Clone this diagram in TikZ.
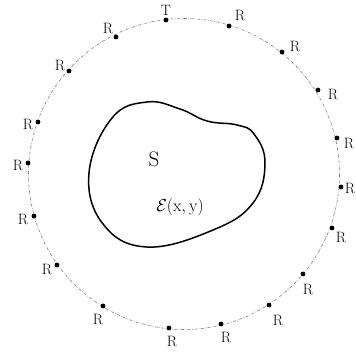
\documentclass[tikz,border=0pt]{standalone}
\begin{document}
\begin{tikzpicture}[x=1pt,y=-1pt,
  dot/.style={circle,fill=black,inner sep=0pt,minimum size=4.8pt},
  lbl/.style={inner sep=0pt,font=\fontsize{15}{17}\selectfont},
  ring/.style={gray,line width=0.6pt,dash pattern=on 3pt off 1.5pt on 0.6pt off 1.5pt},
  blob/.style={line width=1.5pt,line join=round}]
\useasboundingbox (0,0) rectangle (356,354);
\draw[ring] (184,174) circle[radius=155.5];
\draw[blob] plot[smooth cycle,tension=0.7] coordinates{(147,102) (180,109) (207,121) (237,125) (254,134) (265,163) (253,203) (213,230) (147,247) (103,224) (89,173) (112,118)};
\node[font=\fontsize{21}{23}\selectfont] (S) at (154,159) {S};
\node[font=\fontsize{16}{18}\selectfont] (E) at (180,207) {$\mathcal{E}(\mathrm{x,y})$};
\node[dot] (d1) at (166,20) {};  \node[lbl] (l1) at (166,10) {T};
\node[dot] (d2) at (116,37) {};  \node[lbl] (l2) at (108,28) {R};
\node[dot] (d3) at (69,71) {};   \node[lbl] (l3) at (60,65) {R};
\node[dot] (d4) at (38,122) {};  \node[lbl] (l4) at (28,124) {R};
\node[dot] (d5) at (28,163) {};  \node[lbl] (l5) at (18,165) {R};
\node[dot] (d6) at (34,216) {};  \node[lbl] (l6) at (23,219) {R};
\node[dot] (d7) at (57,265) {};  \node[lbl] (l7) at (47,269) {R};
\node[dot] (d8) at (103,306) {}; \node[lbl] (l8) at (98,319) {R};
\node[dot] (d9) at (169,328) {}; \node[lbl] (l9) at (172,341) {R};
\node[dot] (d10) at (221,324) {}; \node[lbl] (l10) at (226,337) {R};
\node[dot] (d11) at (269,305) {}; \node[lbl] (l11) at (278,320) {R};
\node[dot] (d12) at (303,274) {}; \node[lbl] (l12) at (308,289) {R};
\node[dot] (d13) at (332,228) {}; \node[lbl] (l13) at (341,237) {R};
\node[dot] (d14) at (341,187) {}; \node[lbl] (l14) at (350,188) {R};
\node[dot] (d15) at (337,138) {}; \node[lbl] (l15) at (349,143) {R};
\node[dot] (d16) at (318,90) {};  \node[lbl] (l16) at (333,94) {R};
\node[dot] (d17) at (282,52) {};  \node[lbl] (l17) at (295,46) {R};
\node[dot] (d18) at (229,26) {};  \node[lbl] (l18) at (240,15) {R};
\end{tikzpicture}
\end{document}
